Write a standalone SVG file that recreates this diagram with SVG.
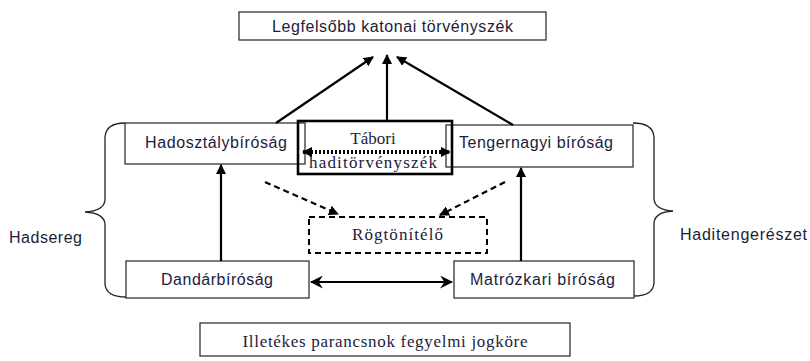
<svg xmlns="http://www.w3.org/2000/svg" width="810" height="361" viewBox="0 0 810 361">
<defs>
<style>
.box{fill:#fff;stroke:#333;stroke-width:1.3}
.sans{font-family:"Liberation Sans",Arial,sans-serif;font-size:16px;fill:#1c1c3c}
.serif{font-family:"Liberation Serif","Times New Roman",serif;font-size:17px;fill:#1c1c3c}
.conn{stroke:#000;stroke-width:2.2;fill:none}
.dash{stroke:#000;stroke-width:2.2;fill:none;stroke-dasharray:6 4}
.brace{stroke:#222;stroke-width:1.3;fill:none}
</style>
<marker id="ah" viewBox="0 0 10 10" refX="9" refY="5" markerWidth="10" markerHeight="10" markerUnits="userSpaceOnUse" orient="auto-start-reverse">
<path d="M0,0 L10,5 L0,10 z" fill="#000"/>
</marker>
<marker id="bh" viewBox="0 0 12 12" refX="11" refY="6" markerWidth="13" markerHeight="13" markerUnits="userSpaceOnUse" orient="auto-start-reverse">
<path d="M0,0 L12,6 L0,12 L4,6 z" fill="#000"/>
</marker>
</defs>

<g id="braces">
<path class="brace" d="M125,123 Q106,123 105,137 L105,200 Q104,211 85,212 Q104,213 105,224 L105,284 Q106,297 126,297"/>
<path class="brace" d="M633,123 Q653,123 654,137 L654,199 Q655,210 673,211 Q655,212 654,223 L654,283 Q653,296 634,296"/>
</g>

<g id="n-top">
<rect class="box" x="239" y="12" width="307" height="28"/>
<text class="sans" x="392.5" y="32" text-anchor="middle" textLength="241">Legfelsőbb katonai törvényszék</text>
</g>

<g id="n-hadosztaly">
<rect class="box" x="125" y="123" width="180" height="41"/>
<text class="sans" x="145" y="148" textLength="142">Hadosztálybíróság</text>
</g>

<g id="n-tengernagyi">
<rect class="box" x="446" y="125" width="187" height="42"/>
<text class="sans" x="459" y="148" textLength="154">Tengernagyi bíróság</text>
</g>

<g id="n-tabori">
<rect x="298" y="121" width="154" height="53" fill="none" stroke="#000" stroke-width="2.6"/>
<text class="serif" x="373" y="144" text-anchor="middle" font-size="18">Tábori</text>
<text class="serif" x="373" y="168" text-anchor="middle" textLength="128">haditörvényszék</text>
</g>

<g id="n-rogtonitelo">
<rect x="309" y="217" width="178" height="36" fill="none" stroke="#000" stroke-width="2" stroke-dasharray="6 4"/>
<text class="serif" x="397.5" y="240" text-anchor="middle" textLength="91">Rögtönítélő</text>
</g>

<g id="n-dandar">
<rect class="box" x="126" y="261" width="183" height="37"/>
<text class="sans" x="217" y="285" text-anchor="middle" textLength="112">Dandárbíróság</text>
</g>

<g id="n-matrozkari">
<rect class="box" x="454" y="261" width="180" height="37"/>
<text class="sans" x="542.5" y="285" text-anchor="middle" textLength="145">Matrózkari bíróság</text>
</g>

<g id="n-illetekes">
<rect class="box" x="200" y="323" width="370" height="33"/>
<text class="serif" x="385" y="347" text-anchor="middle" textLength="285">Illetékes parancsnok fegyelmi jogköre</text>
</g>

<g id="l-hadsereg">
<text class="sans" x="9" y="243" textLength="73">Hadsereg</text>
</g>
<g id="l-haditengereszet">
<text class="sans" x="680" y="240" textLength="127">Haditengerészet</text>
</g>

<g id="connectors">
<line class="conn" x1="276" y1="123" x2="373" y2="57" marker-end="url(#ah)"/>
<line class="conn" x1="387" y1="121" x2="387" y2="55" marker-end="url(#ah)"/>
<line class="conn" x1="513" y1="125" x2="397" y2="57" marker-end="url(#ah)"/>
<line x1="303" y1="152" x2="450" y2="152" stroke="#000" stroke-width="4" stroke-dasharray="2 2" marker-start="url(#ah)" marker-end="url(#ah)"/>
<line class="conn" x1="221" y1="261" x2="221" y2="165" marker-end="url(#ah)"/>
<line class="conn" x1="521" y1="261" x2="521" y2="168" marker-end="url(#ah)"/>
<line class="dash" x1="265" y1="182" x2="338" y2="214" marker-end="url(#ah)"/>
<line class="dash" x1="505" y1="182" x2="440" y2="215" marker-end="url(#ah)"/>
<line class="conn" x1="311" y1="282" x2="452" y2="282" marker-start="url(#bh)" marker-end="url(#bh)"/>
</g>
</svg>
